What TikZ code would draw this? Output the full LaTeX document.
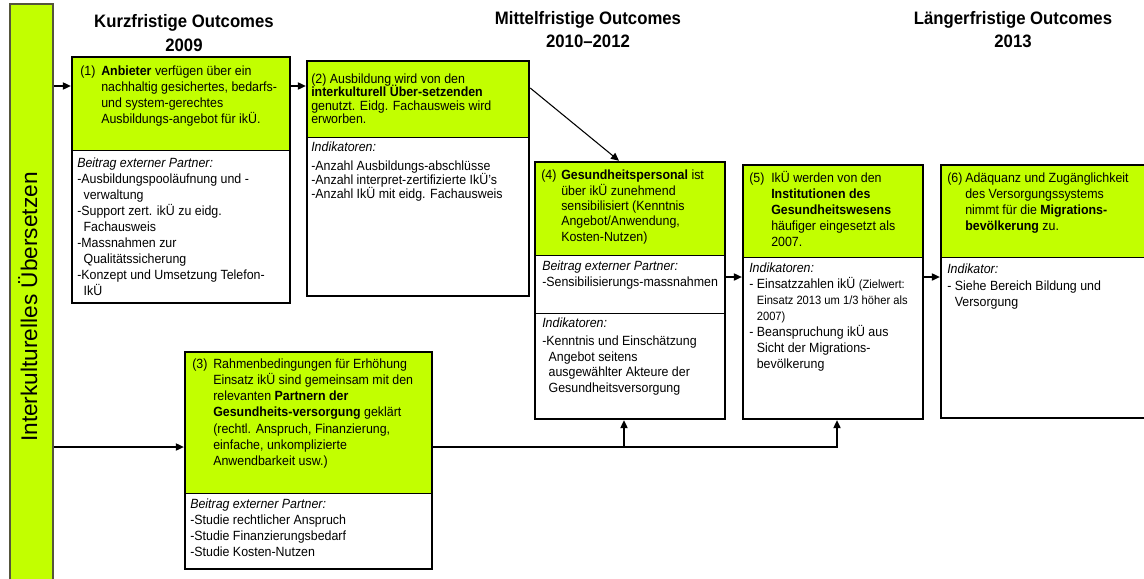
\documentclass[tikz,border=0pt]{standalone}
\usepackage{fontspec}
\setmainfont{Liberation Sans}[FakeStretch=0.93]
\newfontfamily\barfont{Liberation Sans}
\usetikzlibrary{arrows.meta,fit}
\definecolor{lime}{RGB}{194,255,0}
\definecolor{barline}{RGB}{85,85,60}
\begin{document}
\begin{tikzpicture}[x=0.75pt,y=-0.75pt,
  frame/.style={draw=black,line width=1.8pt,inner sep=0pt},
  greenpart/.style={fill=lime,inner sep=0pt},
  divider/.style={draw=black,line width=0.6pt},
  txt/.style={anchor=north west,inner sep=0pt,align=left,font=\fontsize{10}{12}\selectfont,
    execute at begin node={\lineskiplimit=-5pt}},
  title/.style={anchor=base,inner sep=0pt,font=\fontsize{13.5}{16}\selectfont\bfseries},
  arr/.style={-{Triangle[length=6pt,width=5.5pt]},line width=0.8pt}]
\useasboundingbox (0,0) rectangle (1144,578);
\clip (0,0) rectangle (1144,578);
\fill[white] (0,0) rectangle (1144,578);

% left bar
\node[fill=lime,draw=barline,line width=1.1pt,inner sep=0pt,fit={(10,4)(53,600)}] (bar) {};
\node[rotate=90,anchor=base,inner sep=0pt,font=\barfont\fontsize{17}{20}\selectfont] (vt) at (37,307) {Interkulturelles Übersetzen};

% titles
\node[title] (h1a) at (184,27) {Kurzfristige Outcomes};
\node[title] (h1b) at (184,51) {2009};
\node[title] (h2a) at (588,24) {Mittelfristige Outcomes};
\node[title] (h2b) at (588,47) {2010--2012};
\node[title] (h3a) at (1013,24) {Längerfristige Outcomes};
\node[title] (h3b) at (1013,47) {2013};

% green parts
\node[greenpart,fit={(72,57)(290,150)}] (g1) {};
\node[greenpart,fit={(307,61)(529,137)}] (g2) {};
\node[greenpart,fit={(185,352)(432,493)}] (g3) {};
\node[greenpart,fit={(535,162)(725,255)}] (g4) {};
\node[greenpart,fit={(743,165)(923,257)}] (g5) {};
\node[greenpart,fit={(941,165)(1160,257)}] (g6) {};

% dividers
\draw[divider] (g1.south west) -- (g1.south east);
\draw[divider] (g2.south west) -- (g2.south east);
\draw[divider] (g3.south west) -- (g3.south east);
\draw[divider] (g4.south west) -- (g4.south east);
\draw[divider] (g5.south west) -- (g5.south east);
\draw[divider] (g6.south west) -- (g6.south east);
\draw[divider] (535,313) -- (725,313);

% frames
\node[frame,fit={(72,57)(290,303)}] (b1) {};
\node[frame,fit={(307,61)(529,296)}] (b2) {};
\node[frame,fit={(185,352)(432,569)}] (b3) {};
\node[frame,fit={(535,162)(725,419)}] (b4) {};
\node[frame,fit={(743,165)(923,419)}] (b5) {};
\node[frame,fit={(941,165)(1160,418)}] (b6) {};

% box 1
\node[txt] (t1n) at (80,64.5) {\strut(1)};
\node[txt] (t1) at (101,64.5) {\strut\textbf{Anbieter} verfügen über ein\\nachhaltig gesichertes, bedarfs-\\und system-gerechtes\\Ausbildungs-angebot für ikÜ.};
\node[txt] (p1) at (77,156.5) {\strut\textit{Beitrag externer Partner:}\\-Ausbildungspooläufnung und -\\\phantom{-}\,verwaltung\\-Support zert. ikÜ zu eidg.\\\phantom{-}\,Fachausweis\\-Massnahmen zur\\\phantom{-}\,Qualitätssicherung\\-Konzept und Umsetzung Telefon-\\\phantom{-}\,IkÜ};

% box 2
\node[txt,font=\fontsize{10}{10}\selectfont] (t2) at (311,73.5) {\strut(2) Ausbildung wird von den\\\textbf{interkulturell Über-setzenden}\\genutzt. Eidg. Fachausweis wird\\erworben.};
\node[txt,font=\fontsize{10}{10.7}\selectfont] (p2) at (311,141.5) {\strut\textit{Indikatoren:}\\[3pt]-Anzahl Ausbildungs-abschlüsse\\-Anzahl interpret-zertifizierte IkÜ's\\-Anzahl IkÜ mit eidg. Fachausweis};

% box 3
\node[txt,font=\fontsize{10}{12.2}\selectfont] (t3n) at (192,356.5) {\strut(3)};
\node[txt,font=\fontsize{10}{12.2}\selectfont] (t3) at (213,356.5) {\strut Rahmenbedingungen für Erhöhung\\Einsatz ikÜ sind gemeinsam mit den\\relevanten \textbf{Partnern der}\\\textbf{Gesundheits-versorgung} geklärt\\(rechtl. Anspruch, Finanzierung,\\einfache, unkomplizierte\\Anwendbarkeit usw.)};
\node[txt] (p3) at (190,497.5) {\strut\textit{Beitrag externer Partner:}\\-Studie rechtlicher Anspruch\\-Studie Finanzierungsbedarf\\-Studie Kosten-Nutzen};

% box 4
\node[txt,font=\fontsize{10}{11.6}\selectfont] (t4n) at (541,168.5) {\strut(4)};
\node[txt,font=\fontsize{10}{11.6}\selectfont] (t4) at (561,168.5) {\strut\textbf{Gesundheitspersonal} ist\\über ikÜ zunehmend\\sensibilisiert (Kenntnis\\Angebot/Anwendung,\\Kosten-Nutzen)};
\node[txt] (p4a) at (542,259.5) {\strut\textit{Beitrag externer Partner:}\\-Sensibilisierungs-massnahmen};
\node[txt,font=\fontsize{10}{11.8}\selectfont] (p4b) at (542,316.5) {\strut\textit{Indikatoren:}\\[1.5pt]-Kenntnis und Einschätzung\\\phantom{-}\,Angebot seitens\\\phantom{-}\,ausgewählter Akteure der\\\phantom{-}\,Gesundheitsversorgung};

% box 5
\node[txt] (t5n) at (749,171.5) {\strut(5)};
\node[txt] (t5) at (771,171.5) {\strut IkÜ werden von den\\\textbf{Institutionen des}\\\textbf{Gesundheitswesens}\\häufiger eingesetzt als\\2007.};
\node[txt] (p5) at (749,261.5) {\strut\textit{Indikatoren:}\\- Einsatzzahlen ikÜ {\fontsize{9}{12}\selectfont(Zielwert:}\\\phantom{- }{\fontsize{9}{12}\selectfont Einsatz 2013 um 1/3 höher als}\\\phantom{- }{\fontsize{9}{12}\selectfont 2007)}\\- Beanspruchung ikÜ aus\\\phantom{- }Sicht der Migrations-\\\phantom{- }bevölkerung};

% box 6
\node[txt] (t6n) at (947,171.5) {\strut(6)};
\node[txt] (t6) at (965,171.5) {\strut Adäquanz und Zugänglichkeit\\des Versorgungssystems\\nimmt für die \textbf{Migrations-}\\\textbf{bevölkerung} zu.};
\node[txt,font=\fontsize{10}{12.5}\selectfont] (p6) at (947,261.5) {\strut\textit{Indikator:}\\- Siehe Bereich Bildung und\\\phantom{- }Versorgung};

% connectors
\coordinate (j4) at (624,447);
\draw[arr] (bar.east |- 0,86) -- (b1.west |- 0,86);
\draw[arr] (b1.east |- 0,86) -- (b2.west |- 0,86);
\draw[arr] (b2.east |- 0,88) -- (619,0 |- b4.north);
\draw[arr] (bar.east |- j4) -- (b3.west |- j4);
\draw[arr] (b3.east |- j4) -| (837,0 |- b5.south);
\draw[arr] (j4) -- (j4 |- b4.south);
\draw[arr] (b4.east |- 0,277) -- (b5.west |- 0,277);
\draw[arr] (b5.east |- 0,277) -- (b6.west |- 0,277);
\end{tikzpicture}
\end{document}
